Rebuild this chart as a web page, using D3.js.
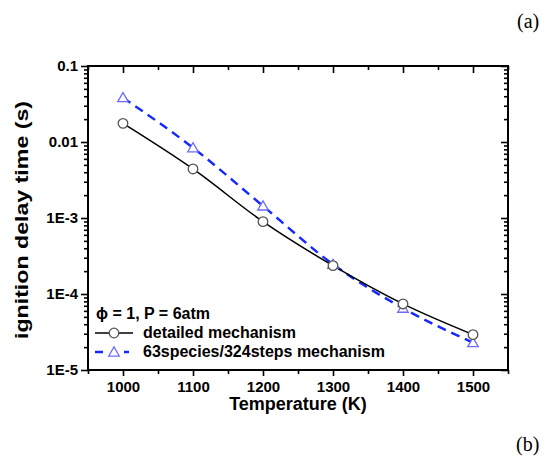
<!DOCTYPE html>
<html>
<head>
<meta charset="utf-8">
<script src="https://cdn.jsdelivr.net/npm/d3@7"></script>
<style>
  body { margin: 0; background: #fff; }
  svg { display: block; }
  text { font-family: "Liberation Sans", Arial, sans-serif; font-weight: bold; }
</style>
</head>
<body>
<svg width="550" height="459"></svg>
<script>
// data
var temps = [1000, 1100, 1200, 1300, 1400, 1500];
var detailed = [0.0176, 0.00442, 0.000895, 0.000236, 0.000074, 0.0000292];
var reduced = [0.0383, 0.0084, 0.00144, 0.000246, 0.000065, 0.0000229];
var xMajor = [1000, 1100, 1200, 1300, 1400, 1500];
var xMinor = [950, 1050, 1150, 1250, 1350, 1450, 1550];
var yLabels = {"0.1": "0.1", "0.01": "0.01", "0.001": "1E-3", "0.0001": "1E-4", "0.00001": "1E-5"};
var legendRows = ["detailed mechanism", "63species/324steps mechanism"];

var svg = d3.select("svg");

//plot box
var L = 88, R = 508, T = 66, B = 370;

var x = d3.scaleLinear().domain([950, 1550]).range([L, R]);
var y = d3.scaleLog().domain([1e-5, 0.1]).range([B, T]);

//all log ticks 1..9 per decade
var yTicks = [];
for (var e = -5; e <= -1; e++) {
  for (var m = 1; m <= 9; m++) {
    var v = +(m * Math.pow(10, e)).toPrecision(3);
    if (v <= 0.1 + 1e-12) yTicks.push(v);
  }
}
function isMajorY(v) { return Math.abs(Math.log10(v) - Math.round(Math.log10(v))) < 1e-6; }
function isMajorX(v) { return xMajor.indexOf(v) >= 0; }

var xAll = xMajor.concat(xMinor).sort(d3.ascending);

//bottom axis, ticks outward
var gx = svg.append("g").attr("transform", "translate(0," + B + ")")
  .call(d3.axisBottom(x).tickValues(xAll).tickSizeOuter(0)
    .tickFormat(function(d) { return isMajorX(d) ? d : ""; }));
gx.selectAll("line").attr("y2", function(d) { return isMajorX(d) ? 6 : 4; });
gx.selectAll("text").attr("y", 11).style("font-size", "15px");

//left axis, ticks outward
var gy = svg.append("g").attr("transform", "translate(" + L + ",0)")
  .call(d3.axisLeft(y).tickValues(yTicks).tickSizeOuter(0)
    .tickFormat(function(d) { return isMajorY(d) ? yLabels[String(d)] : ""; }));
gy.selectAll("line").attr("x2", function(d) { return isMajorY(d) ? -7 : -4; });
gy.selectAll("text").attr("x", -10).style("font-size", "15px");

//top axis, mirrored ticks pointing in
var gt = svg.append("g").attr("transform", "translate(0," + T + ")")
  .call(d3.axisTop(x).tickValues(xAll).tickSizeOuter(0).tickFormat(""));
gt.selectAll("line").attr("y2", function(d) { return isMajorX(d) ? 7 : 4; });

//right axis, mirrored ticks pointing in
var gr = svg.append("g").attr("transform", "translate(" + R + ",0)")
  .call(d3.axisRight(y).tickValues(yTicks).tickSizeOuter(0).tickFormat(""));
gr.selectAll("line").attr("x2", function(d) { return isMajorY(d) ? -7 : -4; });

svg.selectAll(".domain").remove();
svg.selectAll(".tick line").attr("stroke", "#000").attr("stroke-width", 1.6);
svg.selectAll(".tick text").attr("fill", "#000");

//frame
svg.append("rect")
  .attr("x", L).attr("y", T).attr("width", R - L).attr("height", B - T)
  .attr("fill", "none").attr("stroke", "#000").attr("stroke-width", 2);

//curves
var lineGen = d3.line()
  .x(function(d, i) { return x(temps[i]); })
  .y(function(d) { return y(d); })
  .curve(d3.curveMonotoneX);

svg.append("path").datum(reduced)
  .attr("d", lineGen)
  .attr("fill", "none").attr("stroke", "#1428ff")
  .attr("stroke-width", 2.4).attr("stroke-dasharray", "9,6");

svg.append("path").datum(detailed)
  .attr("d", lineGen)
  .attr("fill", "none").attr("stroke", "#000").attr("stroke-width", 1.5);

var tri = d3.symbol().type(d3.symbolTriangle).size(48);

svg.selectAll(".tri").data(reduced).enter().append("path")
  .attr("class", "tri")
  .attr("transform", function(d, i) { return "translate(" + x(temps[i]) + "," + (y(d) + 1) + ")"; })
  .attr("d", tri)
  .attr("fill", "#fff").attr("stroke", "#6b6bff").attr("stroke-width", 1.3);

svg.selectAll(".circ").data(detailed).enter().append("circle")
  .attr("class", "circ")
  .attr("cx", function(d, i) { return x(temps[i]); })
  .attr("cy", function(d) { return y(d); })
  .attr("r", 4.8)
  .attr("fill", "#fff").attr("stroke", "#555").attr("stroke-width", 1.3);

//legend
var lg = svg.append("g");
lg.append("text").attr("x", 96).attr("y", 319).style("font-size", "16px")
  .text("\u03D5 = 1, P = 6atm");

lg.append("line").attr("x1", 95).attr("x2", 133).attr("y1", 333).attr("y2", 333)
  .attr("stroke", "#000").attr("stroke-width", 1.5);
lg.append("circle").attr("cx", 114).attr("cy", 333).attr("r", 4.8)
  .attr("fill", "#fff").attr("stroke", "#555").attr("stroke-width", 1.3);

lg.append("line").attr("x1", 95).attr("x2", 133).attr("y1", 352).attr("y2", 352)
  .attr("stroke", "#1428ff").attr("stroke-width", 2.4).attr("stroke-dasharray", "8,21,5,10");
lg.append("path").attr("transform", "translate(114,353)").attr("d", tri)
  .attr("fill", "#fff").attr("stroke", "#6b6bff").attr("stroke-width", 1.3);

lg.selectAll(".lt").data(legendRows).enter().append("text")
  .attr("x", 143).attr("y", function(d, i) { return 338 + i * 19; })
  .style("font-size", "16px").text(function(d) { return d; });

//axis titles
svg.append("text").attr("x", (L + R) / 2).attr("y", 410)
  .attr("text-anchor", "middle").style("font-size", "18px").text("Temperature (K)");

svg.append("text")
  .attr("transform", "translate(28,220) rotate(-90)")
  .attr("text-anchor", "middle").style("font-size", "18px")
  .attr("textLength", 238).attr("lengthAdjust", "spacingAndGlyphs")
  .text("ignition delay time (s)");

//panel letters
svg.append("text").attr("x", 517).attr("y", 28)
  .style("font-family", "'Liberation Serif', 'Times New Roman', serif")
  .style("font-weight", "normal").style("font-size", "20px").text("(a)");
svg.append("text").attr("x", 516).attr("y", 451)
  .style("font-family", "'Liberation Serif', 'Times New Roman', serif")
  .style("font-weight", "normal").style("font-size", "20px").text("(b)");
</script>
</body>
</html>
